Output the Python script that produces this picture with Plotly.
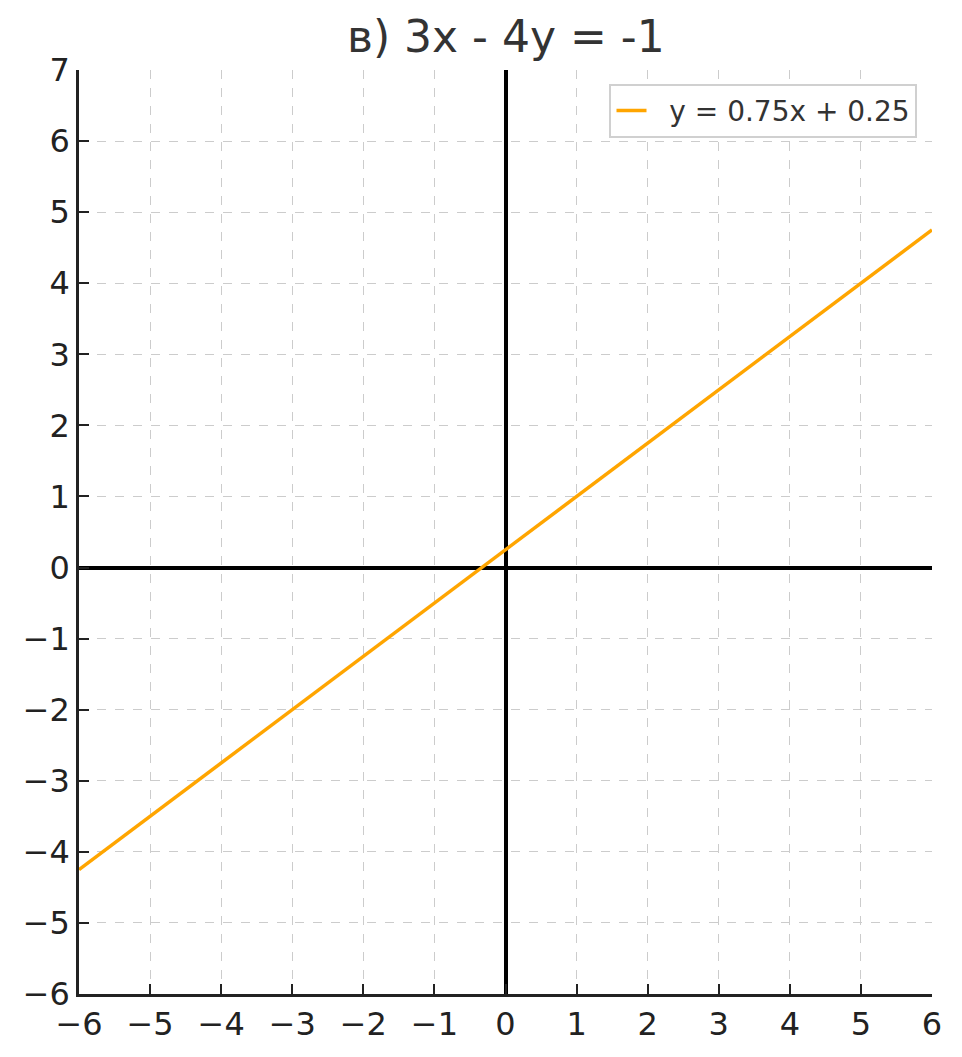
import plotly.graph_objects as go

# Data
x_vals = [-6, 6]
y_vals = [-4.25, 4.75]
series_name = "y = 0.75x + 0.25"
title_text = "в) 3x - 4y = -1"
x_ticks = list(range(-6, 7))
y_ticks = list(range(-6, 8))

FONT = "DejaVu Sans"

fig = go.Figure()
fig.add_trace(go.Scatter(
    x=x_vals, y=y_vals, mode="lines", name="\u00a0\u00a0" + series_name,
    line=dict(color="#FFA500", width=3.5),
))

axis_common = dict(
    showgrid=True, gridcolor="#cccccc", gridwidth=1, griddash="dash",
    zeroline=True, zerolinecolor="black", zerolinewidth=3.5,
    showline=True, linecolor="#222222", linewidth=2.5,
    ticks="inside", ticklen=10, tickwidth=2, tickcolor="#222222",
    tickfont=dict(family=FONT, size=32, color="#222222"),
    mirror=False,
)

fig.update_xaxes(range=[-6, 6], tickvals=x_ticks, **axis_common)
fig.update_yaxes(range=[-6, 7], tickvals=y_ticks, **axis_common)

fig.update_layout(
    width=962, height=1057,
    margin=dict(l=71, r=38, t=62, b=71),
    paper_bgcolor="white", plot_bgcolor="white",
    title=dict(text=title_text, x=0.5175, xanchor="center", y=0.973, yanchor="middle",
               font=dict(family=FONT, size=44, color="#333333")),
    showlegend=True,
    legend=dict(x=0.983, y=0.985, xanchor="right", yanchor="top",
                bgcolor="white", bordercolor="#d0d0d0", borderwidth=2,
                font=dict(family=FONT, size=28, color="#333333")),
)

fig.write_html("out.html")
